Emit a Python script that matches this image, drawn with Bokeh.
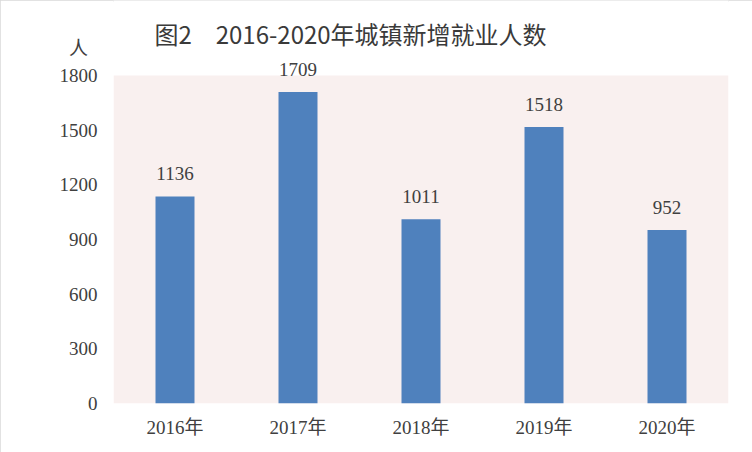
from bokeh.plotting import figure
from bokeh.models import ColumnDataSource, LabelSet, Label, Range1d, FixedTicker, BoxAnnotation
from bokeh.embed import file_html
from bokeh.resources import INLINE
from bokeh.core.properties import value

years = ["2016年", "2017年", "2018年", "2019年", "2020年"]
jobs = [1136, 1709, 1011, 1518, 952]
yticks = [0, 300, 600, 900, 1200, 1500, 1800]
title_text = "图2　2016-2020年城镇新增就业人数"
unit_text = "人"

SERIF = "'Liberation Serif', 'Noto Sans CJK SC'"
TXT = "#404040"

W, H = 752, 452
F_LEFT, F_RIGHT, F_BOTTOM = 113, 728, 403
Y_MAX = 1800
px_per_unit = (F_BOTTOM - 75) / Y_MAX
y_top = F_BOTTOM / px_per_unit

src = ColumnDataSource(dict(x=years, top=jobs, lbl=[str(v) for v in jobs]))

p = figure(x_range=years, y_range=Range1d(0, y_top), width=W, height=H,
           output_backend="svg", toolbar_location=None,
           min_border_left=F_LEFT, min_border_right=W - F_RIGHT, min_border_top=0,
           min_border_bottom=H - F_BOTTOM)
p.background_fill_color = "white"
p.border_fill_color = "white"
p.outline_line_color = None
p.grid.grid_line_color = None
p.styles = {"outline": "2px solid #d9d9d9", "outline-offset": "-2px"}

p.add_layout(BoxAnnotation(bottom=0, top=Y_MAX, fill_color="#f9f0ef", fill_alpha=1,
                           line_color=None, level="underlay"))

p.vbar(x="x", top="top", width=0.317, source=src, color="#4f81bd", line_color=None)

p.add_layout(LabelSet(x="x", y="top", text="lbl", source=src, y_offset=16,
                      text_align="center", text_baseline="alphabetic",
                      text_font=value(SERIF), text_font_size="19px",
                      text_color=TXT))

unit_y = (F_BOTTOM - 47.5) / px_per_unit
for ax in (p.xaxis[0], p.yaxis[0]):
    ax.axis_line_color = None
    ax.major_tick_line_color = None
    ax.minor_tick_line_color = None
    ax.major_tick_out = 0
    ax.major_tick_in = 0
    ax.major_label_text_font = SERIF
    ax.major_label_text_font_size = "19px"
    ax.major_label_text_color = TXT
p.xaxis.major_label_standoff = 13
p.yaxis.major_label_standoff = 16
p.yaxis.ticker = FixedTicker(ticks=yticks + [unit_y])
p.yaxis.major_label_overrides = {unit_y: unit_text + "\u00a0\u00a0"}

title_x = (350 - F_LEFT) / ((F_RIGHT - F_LEFT) / len(years))
title_y = (F_BOTTOM - 33) / px_per_unit
p.add_layout(Label(x=title_x, y=title_y, text=title_text,
                   text_align="center", text_baseline="middle",
                   text_font="Noto Sans CJK SC", text_font_size="24px",
                   text_color="#3a3a3a"))

open("out.html", "w").write(file_html(p, INLINE))
